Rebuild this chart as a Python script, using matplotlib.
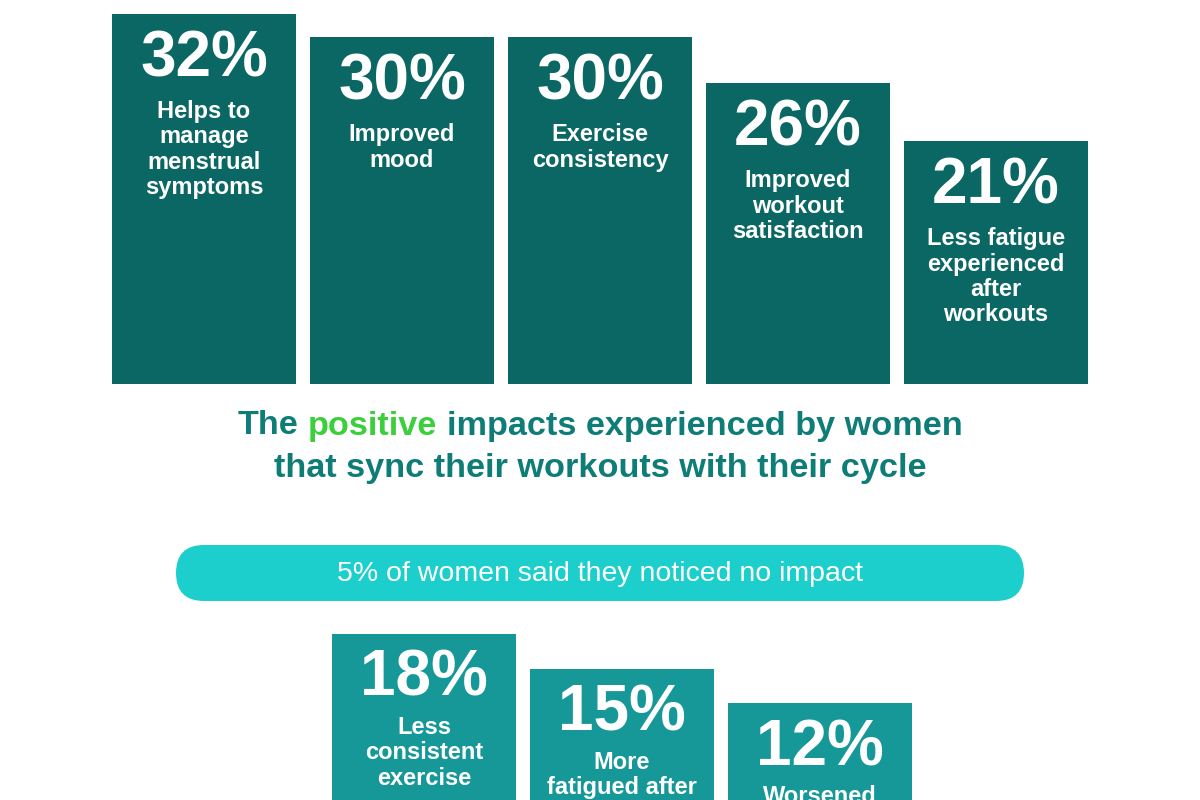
import matplotlib

matplotlib.use("Agg")
import matplotlib.pyplot as plt
import numpy as np
from matplotlib import font_manager
from matplotlib.patches import FancyBboxPatch


TOP_VALUES = [32, 30, 30, 26, 21]
TOP_LABELS = [
    "Helps to\nmanage\nmenstrual\nsymptoms",
    "Improved\nmood",
    "Exercise\nconsistency",
    "Improved\nworkout\nsatisfaction",
    "Less fatigue\nexperienced\nafter\nworkouts",
]
BOTTOM_VALUES = [18, 15, 12]
BOTTOM_LABELS = [
    "Less\nconsistent\nexercise",
    "More\nfatigued after\nworkouts",
    "Worsened\nmood",
]
TITLE_LINE_1 = [("The", "teal"), ("positive", "green"), ("impacts experienced by women", "teal")]
TITLE_LINE_2 = "that sync their workouts with their cycle"
NO_IMPACT_TEXT = "5% of women said they noticed no impact"

TOP_COLOR = "#0b6763"
BOTTOM_COLOR = "#169899"
TITLE_COLOR = "#0f7d77"
GREEN = "#3bcf3b"
PILL_COLOR = "#1ccfcd"

W, H = 1200, 800
PX_PER_PCT = 11.56
BAR_STEP = 198
BAR_W = 184
PT = 0.72  # points per pixel at dpi 100


def installed(name: str) -> bool:
    return any(f.name == name for f in font_manager.fontManager.ttflist)


SANS = "Liberation Sans" if installed("Liberation Sans") else "DejaVu Sans"
NARROW = "Liberation Sans Narrow" if installed("Liberation Sans Narrow") else SANS
TITLE_SIZE = 30 if NARROW != SANS else 24.7


def fig_rect(left_px, top_px, right_px, bottom_px):
    return [left_px / W, 1 - bottom_px / H, (right_px - left_px) / W, (bottom_px - top_px) / H]


def draw_bars(fig, values, labels, color, left_px, top_px, baseline_px, label_gap):
    n = len(values)
    half = BAR_W / BAR_STEP / 2
    right_px = left_px + (n - 1) * BAR_STEP + BAR_W
    ax = fig.add_axes(fig_rect(left_px, top_px, right_px, baseline_px))
    ax.set_xlim(-half, n - 1 + half)
    ax.set_ylim(0, (baseline_px - top_px) / PX_PER_PCT)
    ax.axis("off")
    x = np.arange(n)
    ax.bar(x, values, width=2 * half, color=color, linewidth=0)
    for xi, value, label in zip(x, values, labels):
        ax.annotate(f"{value}%", (xi, value), xytext=(0, -45 * PT), textcoords="offset points",
                    ha="center", va="center", color="white", fontsize=46,
                    fontweight="bold", family=SANS)
        ax.annotate(label, (xi, value), xytext=(0, -label_gap * PT), textcoords="offset points",
                    ha="center", va="top", color="white", fontsize=17,
                    fontweight="bold", family=SANS, linespacing=1.13)
    return ax


fig = plt.figure(figsize=(12, 8), dpi=100)
fig.patch.set_facecolor("white")

draw_bars(fig, TOP_VALUES, TOP_LABELS, TOP_COLOR, 112, 0, 384, 86)
draw_bars(fig, BOTTOM_VALUES, BOTTOM_LABELS, BOTTOM_COLOR, 332, 600, 842, 82)

# overlay in pixel coordinates for title and the pill
ov = fig.add_axes([0, 0, 1, 1])
ov.set_xlim(0, W)
ov.set_ylim(H, 0)
ov.axis("off")

title_kw = dict(fontsize=TITLE_SIZE, fontweight="bold", family=NARROW, va="center")
renderer = fig.canvas.get_renderer()


def text_width(s):
    t = ov.text(0, 0, s, **title_kw)
    w = t.get_window_extent(renderer).width
    t.remove()
    return w


space = text_width("a b") - text_width("ab")
widths = [text_width(part) for part, _ in TITLE_LINE_1]
total = sum(widths) + space * (len(widths) - 1)
x = W / 2 - total / 2
for (part, tone), w in zip(TITLE_LINE_1, widths):
    ov.text(x, 426, part, ha="left", color=GREEN if tone == "green" else TITLE_COLOR, **title_kw)
    x += w + space
ov.text(W / 2, 469, TITLE_LINE_2, ha="center", color=TITLE_COLOR, **title_kw)

pill = FancyBboxPatch((176, 545), 848, 56, boxstyle="round,pad=0,rounding_size=28",
                      facecolor=PILL_COLOR, edgecolor="none")
ov.add_patch(pill)
ov.text(W / 2, 574, NO_IMPACT_TEXT, ha="center", va="center", color="white",
        fontsize=20.5, family=SANS)

fig.savefig("out.png", dpi=100)
plt.close(fig)
